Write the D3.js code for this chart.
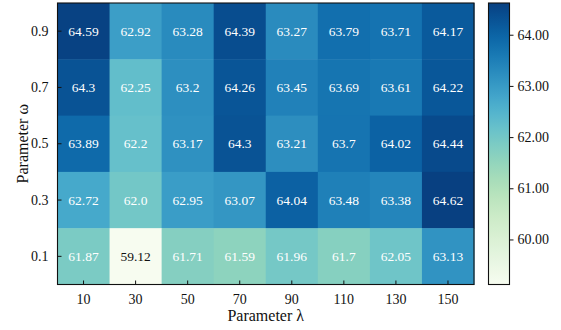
<!DOCTYPE html>
<html>
<head>
<meta charset="utf-8">
<script src="https://cdn.jsdelivr.net/npm/d3@7"></script>
<style>
  html, body { margin: 0; padding: 0; background: #fff; }
  svg { display: block; }
  svg text { font-family: "Liberation Serif", "Times New Roman", serif; }
</style>
</head>
<body>
<svg id="chart" width="561" height="330"></svg>
<script>
// Grid axes
const lambdas = ["10", "30", "50", "70", "90", "110", "130", "150"];
const omegas = ["0.9", "0.7", "0.5", "0.3", "0.1"];

// One row of scores per ω value (top to bottom), as printed in the cells
const row09 = ["64.59", "62.92", "63.28", "64.39", "63.27", "63.79", "63.71", "64.17"];
const row07 = ["64.3", "62.25", "63.2", "64.26", "63.45", "63.69", "63.61", "64.22"];
const row05 = ["63.89", "62.2", "63.17", "64.3", "63.21", "63.7", "64.02", "64.44"];
const row03 = ["62.72", "62.0", "62.95", "63.07", "64.04", "63.48", "63.38", "64.62"];
const row01 = ["61.87", "59.12", "61.71", "61.59", "61.96", "61.7", "62.05", "63.13"];

const colorbarTicks = [60, 61, 62, 63, 64];

const rows = [row09, row07, row05, row03, row01];
const cells = [];
rows.forEach((r, i) => r.forEach((txt, j) => cells.push({
  omega: omegas[i], lambda: lambdas[j], label: txt, value: +txt
})));

const svg = d3.select("#chart");
const plot = { left: 57.5, top: 3, right: 474, bottom: 284.5 };

const x = d3.scaleBand().domain(lambdas).range([plot.left, plot.right]);
const y = d3.scaleBand().domain(omegas).range([plot.top, plot.bottom]);

const vmin = d3.min(cells, d => d.value);
const vmax = d3.max(cells, d => d.value);
const color = d3.scaleSequential(d3.interpolateGnBu).domain([vmin, vmax]);

// Heatmap cells
svg.append("g").selectAll("rect").data(cells).join("rect")
  .attr("x", d => x(d.lambda))
  .attr("y", d => y(d.omega))
  .attr("width", x.bandwidth() + 0.5)
  .attr("height", y.bandwidth() + 0.5)
  .attr("fill", d => color(d.value));

// Cell annotations
svg.append("g").selectAll("text").data(cells).join("text")
  .attr("x", d => x(d.lambda) + x.bandwidth() / 2)
  .attr("y", d => y(d.omega) + y.bandwidth() / 2)
  .attr("text-anchor", "middle")
  .attr("dominant-baseline", "central")
  .attr("font-size", 13.5)
  .attr("fill", d => (d.value - vmin) / (vmax - vmin) < 0.15 ? "#111" : "#fff")
  .text(d => d.label);

// Frame
svg.append("rect")
  .attr("x", plot.left).attr("y", plot.top)
  .attr("width", plot.right - plot.left).attr("height", plot.bottom - plot.top)
  .attr("fill", "none").attr("stroke", "#111").attr("stroke-width", 1.1);

// Axes with inward ticks
const xAxis = svg.append("g")
  .attr("transform", `translate(0,${plot.bottom})`)
  .call(d3.axisBottom(x).tickSizeInner(-4).tickSizeOuter(0).tickPadding(10));
const yAxis = svg.append("g")
  .attr("transform", `translate(${plot.left},0)`)
  .call(d3.axisLeft(y).tickSizeInner(-4).tickSizeOuter(0).tickPadding(9));
[xAxis, yAxis].forEach(g => {
  g.attr("font-family", null);
  g.select(".domain").remove();
  g.selectAll("line").attr("stroke", "#111").attr("stroke-width", 1);
  g.selectAll("text").attr("font-size", 14).attr("fill", "#111");
});

// Axis titles
svg.append("text")
  .attr("x", (plot.left + plot.right) / 2).attr("y", 321)
  .attr("text-anchor", "middle").attr("font-size", 16).attr("fill", "#111")
  .text("Parameter λ");
svg.append("text")
  .attr("transform", `translate(28,${(plot.top + plot.bottom) / 2}) rotate(-90)`)
  .attr("text-anchor", "middle").attr("font-size", 16).attr("fill", "#111")
  .text("Parameter ω");

// Colorbar
const cb = { left: 488.5, width: 21, top: plot.top, bottom: plot.bottom };
const cbScale = d3.scaleLinear().domain([vmin, vmax]).range([cb.bottom, cb.top]);
const grad = svg.append("defs").append("linearGradient")
  .attr("id", "cbGrad").attr("x1", 0).attr("y1", 1).attr("x2", 0).attr("y2", 0);
d3.range(0, 1.0001, 0.02).forEach(t => grad.append("stop")
  .attr("offset", t).attr("stop-color", color(vmin + t * (vmax - vmin))));
svg.append("rect")
  .attr("x", cb.left).attr("y", cb.top)
  .attr("width", cb.width).attr("height", cb.bottom - cb.top)
  .attr("fill", "url(#cbGrad)").attr("stroke", "#111").attr("stroke-width", 1.1);
const cbAxis = svg.append("g")
  .attr("transform", `translate(${cb.left + cb.width},0)`)
  .call(d3.axisRight(cbScale).tickValues(colorbarTicks).tickFormat(d3.format(".2f"))
    .tickSize(4).tickPadding(4));
cbAxis.attr("font-family", null);
cbAxis.select(".domain").remove();
cbAxis.selectAll("line").attr("stroke", "#111");
cbAxis.selectAll("text").attr("font-size", 14).attr("fill", "#111");
</script>
</body>
</html>
